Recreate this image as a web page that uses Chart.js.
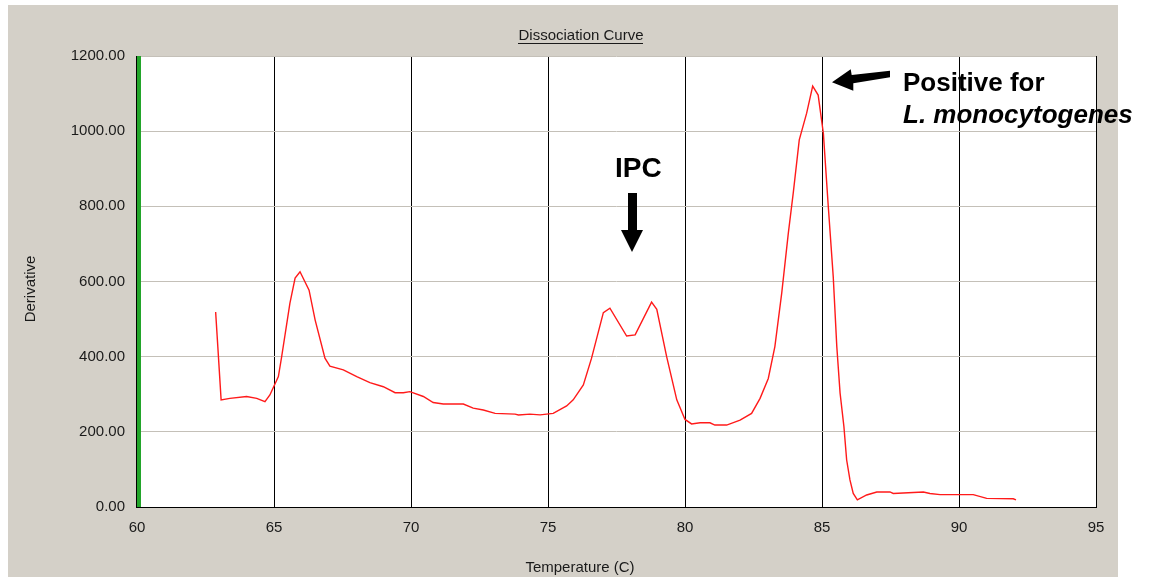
<!DOCTYPE html>
<html>
<head>
<meta charset="utf-8">
<script src="https://cdn.jsdelivr.net/npm/chart.js@4/dist/chart.umd.min.js"></script>
<style>
  html, body { margin: 0; padding: 0; background: #ffffff; }
  #panel { position: absolute; left: 8px; top: 5px; width: 1110px; height: 572px; background: #D4D0C8; }
  #c { position: absolute; left: 0; top: 0; }
</style>
</head>
<body>
<div id="panel"></div>
<canvas id="c" width="1149" height="578"></canvas>
<script>
// ---- data ----
const temps = [62.87, 62.95, 63.07, 63.39, 64.0, 64.37, 64.67, 64.85, 65.16, 65.28, 65.58, 65.77, 65.95,
  66.28, 66.5, 66.86, 67.04, 67.53, 68.02, 68.5, 68.99, 69.42, 69.72, 69.96, 70.45, 70.81, 71.18, 71.91,
  72.27, 72.64, 73.07, 73.8, 73.92, 74.34, 74.71, 75.19, 75.68, 75.92, 76.29, 76.59, 77.02, 77.26, 77.87,
  78.18, 78.78, 78.97, 79.33, 79.7, 80.0, 80.24, 80.55, 80.91, 81.09, 81.52, 82.01, 82.43, 82.74, 83.04,
  83.28, 83.53, 83.77, 83.95, 84.17, 84.44, 84.66, 84.86, 85.05, 85.23, 85.41, 85.54, 85.66, 85.8, 85.9,
  86.02, 86.14, 86.29, 86.63, 87.0, 87.48, 87.6, 88.7, 88.94, 89.31, 90.52, 91.01, 91.98, 92.08];
const derivative = [519, 426, 285, 289, 294, 289, 280, 298, 347, 400, 542, 609, 626,
  577, 498, 396, 375, 365, 347, 331, 320, 304, 304, 307, 294, 278, 274, 274,
  263, 258, 249, 247, 245, 247, 245, 249, 269, 285, 325, 396, 517, 529, 455,
  458, 545, 526, 400, 285, 233, 221, 224, 224, 218, 218, 231, 249, 289, 342,
  427, 569, 728, 835, 977, 1048, 1120, 1096, 994, 799, 613, 427, 303, 214, 125,
  72, 36, 19, 32, 40, 40, 36, 40, 36, 33, 33, 23, 22, 19];
const xMin = 60, xMax = 95, xStep = 5;
const yMin = 0, yMax = 1200, yStep = 200;
const chartTitle = 'Dissociation Curve';
const xTitle = 'Temperature (C)';
const yTitle = 'Derivative';
const ipcLabel = 'IPC';
const posLine1 = 'Positive for';
const posLine2 = 'L. monocytogenes';

const FONT = "'Liberation Sans', Arial, sans-serif";

const decor = {
  id: 'decor',
  beforeDraw(chart) {
    const {ctx, chartArea: a} = chart;
    ctx.save();
    ctx.fillStyle = '#ffffff';
    ctx.fillRect(a.left, a.top, a.right - a.left, a.bottom - a.top);
    ctx.restore();
  },
  afterDraw(chart) {
    const {ctx, chartArea: a} = chart;
    ctx.save();
    // left green border
    ctx.fillStyle = '#000000';
    ctx.fillRect(a.left - 1, a.top, 1, a.bottom - a.top + 1);
    ctx.fillStyle = '#22a52a';
    ctx.fillRect(a.left, a.top, 4, a.bottom - a.top);

    // title
    ctx.fillStyle = '#1a1a1a';
    ctx.font = '15px ' + FONT;
    ctx.textAlign = 'center';
    ctx.textBaseline = 'middle';
    const cx = 581;
    ctx.fillText(chartTitle, cx, 36);
    const tw = ctx.measureText(chartTitle).width;
    ctx.fillRect(Math.round(cx - tw / 2), 43, Math.round(tw), 1);

    // axis titles
    ctx.fillText(xTitle, 580, 568);
    ctx.save();
    ctx.translate(31, 289);
    ctx.rotate(-Math.PI / 2);
    ctx.fillText(yTitle, 0, 0);
    ctx.restore();

    // annotations
    ctx.fillStyle = '#000000';
    ctx.textAlign = 'left';
    ctx.textBaseline = 'alphabetic';
    ctx.font = 'bold 28px ' + FONT;
    ctx.fillText(ipcLabel, 615, 177);
    ctx.font = 'bold 26px ' + FONT;
    ctx.fillText(posLine1, 903, 91);
    ctx.font = 'italic bold 26px ' + FONT;
    ctx.fillText(posLine2, 903, 123);

    // down arrow (IPC)
    ctx.beginPath();
    ctx.moveTo(628, 193); ctx.lineTo(637, 193); ctx.lineTo(637, 230);
    ctx.lineTo(643, 230); ctx.lineTo(632, 252); ctx.lineTo(621, 230);
    ctx.lineTo(628, 230); ctx.closePath(); ctx.fill();

    // left arrow (positive)
    ctx.beginPath();
    ctx.moveTo(832, 82.3); ctx.lineTo(850.7, 69.3); ctx.lineTo(851.7, 75);
    ctx.lineTo(890, 70.7); ctx.lineTo(890, 77.3); ctx.lineTo(853.3, 83.3);
    ctx.lineTo(853.3, 90.7); ctx.closePath(); ctx.fill();
    ctx.restore();
  }
};

const points = temps.map((t, i) => ({x: t, y: derivative[i]}));

new Chart(document.getElementById('c'), {
  type: 'scatter',
  data: {
    datasets: [{
      data: points,
      showLine: true,
      borderColor: '#ff1a1a',
      borderWidth: 1.4,
      pointRadius: 0,
      tension: 0,
      fill: false
    }]
  },
  options: {
    responsive: false,
    animation: false,
    events: [],
    layout: { padding: { top: 56, right: 53, left: 0, bottom: 0 } },
    plugins: { legend: { display: false }, tooltip: { enabled: false }, title: { display: false } },
    scales: {
      x: {
        type: 'linear', min: xMin, max: xMax,
        afterFit(s) { s.height = 71; },
        ticks: { stepSize: xStep, color: '#1a1a1a', font: { size: 15, family: FONT }, padding: 12, maxRotation: 0 },
        grid: { color: '#000000', lineWidth: 1, drawTicks: false },
        border: { display: true, color: '#000000', width: 1 },
        title: { display: false }
      },
      y: {
        min: yMin, max: yMax,
        afterFit(s) { s.width = 137; },
        ticks: { stepSize: yStep, color: '#1a1a1a', font: { size: 15, family: FONT }, padding: 12,
          callback: v => Number(v).toFixed(2) },
        grid: { color: c => (c.tick && c.tick.value === 0) ? '#000000' : '#c4c0b8', lineWidth: 1, drawTicks: false },
        border: { display: false },
        title: { display: false }
      }
    }
  },
  plugins: [decor]
});
</script>
</body>
</html>
